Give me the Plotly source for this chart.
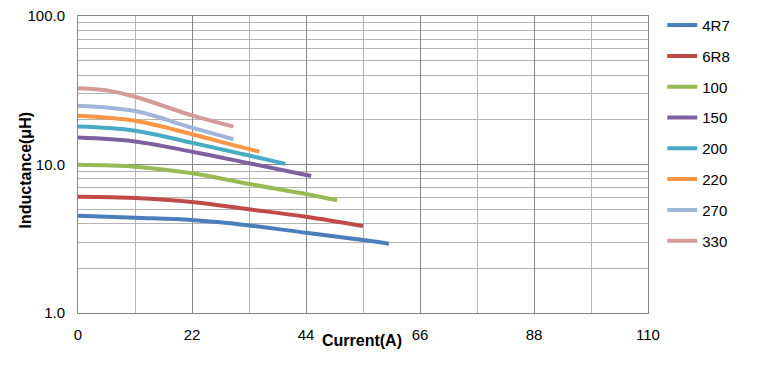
import plotly.graph_objects as go

names = ["4R7", "6R8", "100", "150", "200", "220", "270", "330"]
colors = ["#4A7EBB", "#BE4B48", "#98B954", "#7D60A0", "#46AAC5", "#F79646", "#A1B5D8", "#D59B99"]

x_4r7 = [0, 11, 22, 33, 44, 55, 60]
y_4r7 = [4.52, 4.38, 4.23, 3.89, 3.47, 3.10, 2.93]
x_6r8 = [0, 11, 22, 33, 44, 55]
y_6r8 = [6.07, 5.95, 5.59, 4.99, 4.45, 3.85]
x_100 = [0, 11, 22, 33, 44, 50]
y_100 = [9.97, 9.67, 8.73, 7.39, 6.33, 5.74]
x_150 = [0, 11, 22, 33, 45]
y_150 = [15.2, 14.3, 12.2, 10.2, 8.37]
x_200 = [0, 11, 22, 33, 40]
y_200 = [18.0, 16.9, 14.0, 11.5, 10.1]
x_220 = [0, 11, 22, 30, 35]
y_220 = [21.3, 19.7, 16.0, 13.5, 12.2]
x_270 = [0, 11, 22, 30]
y_270 = [24.9, 22.9, 17.7, 14.8]
x_330 = [0, 5, 11, 22, 30]
y_330 = [32.6, 31.7, 28.6, 21.4, 18.0]

xs = [x_4r7, x_6r8, x_100, x_150, x_200, x_220, x_270, x_330]
ys = [y_4r7, y_6r8, y_100, y_150, y_200, y_220, y_270, y_330]

x_ticks = [0, 22, 44, 66, 88, 110]
y_ticks = [1, 10, 100]
y_tick_text = ["1.0", "10.0", "100.0"]
y_minor = [2, 3, 4, 5, 6, 7, 8, 9, 20, 30, 40, 50, 60, 70, 80, 90]

FONT = "Liberation Sans, Arial, sans-serif"

fig = go.Figure()
for n, c, x, y in zip(names, colors, xs, ys):
    fig.add_trace(go.Scatter(
        x=x, y=y, name=n, mode="lines",
        line=dict(color=c, width=4, shape="spline", smoothing=1.0),
        legendgroup=n,
    ))

fig.update_layout(
    width=767, height=370,
    margin=dict(l=78, r=119, t=16, b=57, autoexpand=False),
    paper_bgcolor="white", plot_bgcolor="white",
    font=dict(family=FONT, size=15, color="#000000"),
    showlegend=True,
    legend=dict(
        x=1.025, y=1.024, xanchor="left", yanchor="top",
        font=dict(family=FONT, size=15, color="#000000"),
        tracegroupgap=8.3,
        maxheight=1,
        bgcolor="rgba(0,0,0,0)",
    ),
    xaxis=dict(
        range=[0, 110],
        tickvals=x_ticks,
        showgrid=True, gridcolor="#868686", gridwidth=1,
        minor=dict(dtick=11, tick0=0, showgrid=True, gridcolor="#B4B4B4", gridwidth=1),
        showline=True, linecolor="#868686", linewidth=1, mirror=True,
        zeroline=False,
        ticks="", ticklabelstandoff=8,
        tickfont=dict(family=FONT, size=15),
    ),
    yaxis=dict(
        type="log",
        range=[0, 2],
        tickvals=y_ticks, ticktext=y_tick_text,
        showgrid=True, gridcolor="#868686", gridwidth=1,
        minor=dict(tickvals=y_minor, showgrid=True, gridcolor="#B4B4B4", gridwidth=1),
        showline=True, linecolor="#868686", linewidth=1, mirror=True,
        zeroline=False,
        ticks="", ticklabelstandoff=9,
        tickfont=dict(family=FONT, size=15),
    ),
    annotations=[
        dict(text="<b>Inductance(μH)</b>", xref="paper", yref="paper",
             x=-0.093, y=0.48, textangle=-90, showarrow=False,
             font=dict(family=FONT, size=16), xanchor="center", yanchor="middle"),
        dict(text="<b>Current(A)</b>", xref="paper", yref="paper",
             x=0.498, y=-0.091, showarrow=False,
             font=dict(family=FONT, size=16), xanchor="center", yanchor="middle"),
    ],
)

fig.write_html("out.html", config={"displayModeBar": False},
               post_script="document.body.style.margin='0px';")
